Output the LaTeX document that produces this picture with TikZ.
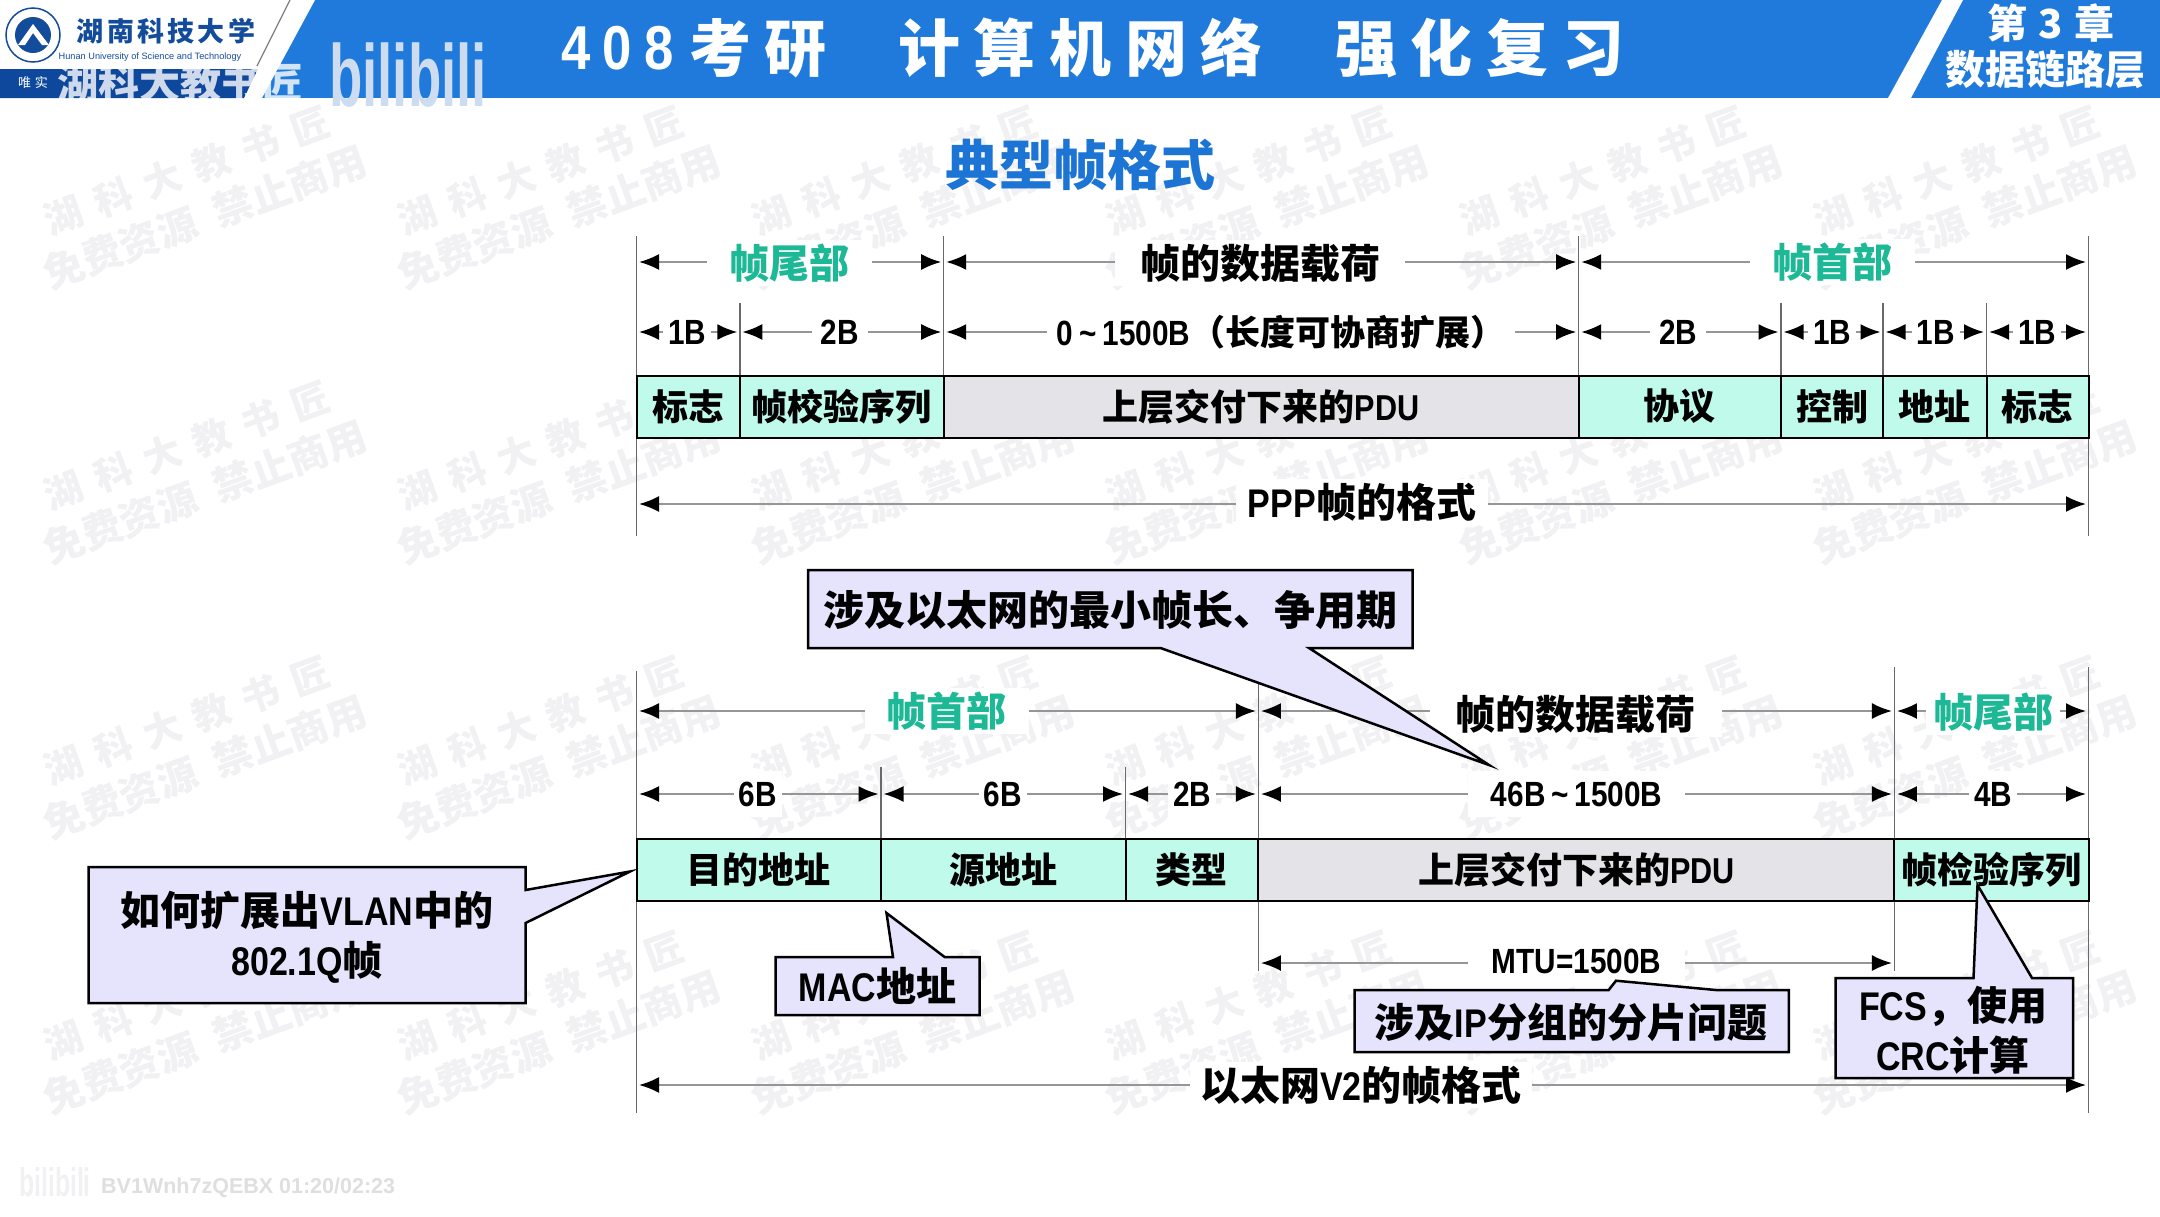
\documentclass[tikz,border=0pt]{standalone}
\usepackage{fontspec}
\setmainfont{Noto Sans CJK SC}
\newfontfamily\lat[FakeStretch=.85]{Liberation Sans}
\newfontfamily\plainlat{Liberation Sans}
\newfontfamily\bilifont[FakeStretch=.62]{Liberation Sans}
\newfontfamily\headfont[LetterSpace=22]{Noto Sans CJK SC}
\newfontfamily\headnum[LetterSpace=20,FakeStretch=.85]{Liberation Sans}
\newfontfamily\wmfont[LetterSpace=38]{Noto Sans CJK SC}
\newfontfamily\schoolfont[LetterSpace=12]{Noto Sans CJK SC}
\newcommand{\la}[1]{{\lat #1}}
\definecolor{headblue}{RGB}{31,122,219}
\definecolor{titleblue}{RGB}{28,116,213}
\definecolor{logoblue}{RGB}{20,76,156}
\definecolor{bandblue}{RGB}{14,72,156}
\definecolor{celltint}{RGB}{192,250,235}
\definecolor{pdugray}{RGB}{228,228,232}
\definecolor{calloutfill}{RGB}{230,227,252}
\definecolor{partteal}{RGB}{29,184,149}
\definecolor{dimgray}{RGB}{150,150,150}
\definecolor{ticklinegray}{RGB}{105,105,105}
\definecolor{markgray}{RGB}{241,241,244}
\definecolor{bililight}{RGB}{205,220,240}
\usetikzlibrary{arrows.meta}
\tikzset{
  cellbox/.style={draw=black, line width=2pt, minimum height=62, inner sep=0, outer sep=0,
    font=\fontsize{36}{42}\selectfont\bfseries},
  dimarrow/.style={dimgray, line width=2pt, shorten <=2.5pt, shorten >=2.5pt,
    {Latex[length=20pt,width=16pt,color=black]}-{Latex[length=20pt,width=16pt,color=black]}},
  tickline/.style={ticklinegray, line width=1.4pt},
  dimlabel/.style={fill=white, inner sep=0, minimum height=46, font=\fontsize{35}{40}\selectfont\bfseries},
  partlabel/.style={dimlabel, font=\fontsize{40}{46}\selectfont\bfseries},
  calloutbox/.style={draw=black, fill=calloutfill, line width=2.5pt},
  callouttext/.style={align=center, inner sep=0, font=\fontsize{40}{50}\selectfont\bfseries},
  marktext/.style={markgray, rotate=20, inner sep=0, font=\fontsize{38}{40}\selectfont\bfseries},
  headtext/.style={white, anchor=west, inner sep=0, font=\fontsize{62}{66}\selectfont\bfseries},
}
\begin{document}
\begin{tikzpicture}[x=1pt, y=-1pt]
\useasboundingbox (0,0) rectangle (2160,1216);
\fill[white] (0,0) rectangle (2160,1216);

% Watermark grid
\foreach \i in {0,...,5} {
  \foreach \j in {0,...,3} {
    \node[marktext] (ma\i\j) at (187+354*\i,171+275*\j) {\wmfont 湖科大教书匠};
    \node[marktext, font=\fontsize{40}{44}\selectfont\bfseries] (mb\i\j) at (205+354*\i,217+275*\j) {免费资源\hspace{20pt}禁止商用};
  }
}

% Header bar
\fill[headblue] (0,0) rectangle (2160,98);
\fill[white] (0,0) -- (315,0) -- (262,98) -- (0,98) -- cycle;
\fill[white] (1942,0) -- (1963,0) -- (1911,98) -- (1888,98) -- cycle;
\fill[bandblue] (0,69) -- (258,69) -- (244,98) -- (0,98) -- cycle;
\draw[gray, line width=1.2pt] (290,0) -- (257,66);

% School logo
\draw[logoblue, line width=1.5pt] (33,35) circle (27pt);
\fill[logoblue] (33,35) circle (18pt);
\fill[white] (18,45) -- (33,24) -- (49,45) -- (42,45) -- (33,33) -- (25,45) -- cycle;
\node[logoblue, inner sep=0, font=\fontsize{27}{30}\selectfont\bfseries] (school) at (166,31) {\schoolfont 湖南科技大学};
\node[logoblue, inner sep=0, font=\fontsize{9.2}{11}\selectfont] (schooleng) at (150,57) {\plainlat Hunan University of Science and Technology};
\node[white, inner sep=0, font=\fontsize{13}{15}\selectfont] (motto) at (33,83) {唯\hspace{4pt}实};

% Channel marks
\node[white, opacity=.8, inner sep=0, font=\fontsize{41}{44}\selectfont\bfseries] (channel) at (180,83) {湖科大教书匠};
\node[bililight, inner sep=0, font=\fontsize{88}{90}\selectfont\bfseries] (bili) at (408,75) {\bilifont bilibili};
\node[markgray, inner sep=0, font=\fontsize{40}{44}\selectfont\bfseries] (bilismall) at (55,1182) {\bilifont bilibili};
\node[anchor=west, gray!25, inner sep=0, font=\fontsize{21.5}{24}\selectfont\bfseries] (videoid) at (101,1188) {\plainlat BV1Wnh7zQEBX 01:20/02:23};

% Header texts
\node[headtext] (headnum) at (561,48) {\headnum 408};
\node[headtext] (heada) at (689,48) {\headfont 考研};
\node[headtext] (headb) at (898,48) {\headfont 计算机网络};
\node[headtext] (headc) at (1335,48) {\headfont 强化复习};
\node[white, inner sep=0, font=\fontsize{40}{44}\selectfont\bfseries] (chap) at (2051,23) {第\hspace{2pt} 3 \hspace{2pt}章};
\node[white, inner sep=0, font=\fontsize{40}{44}\selectfont\bfseries] (chapname) at (2045,69) {数据链路层};
\node[titleblue, inner sep=0, font=\fontsize{54}{60}\selectfont\bfseries] (title) at (1080,165) {典型帧格式};

% PPP frame: vertical ticks and arrow rows
\foreach \n/\x/\t/\b in {0/636.5/236/536,1/739.8/303/375,2/943.7/236/375,3/1578.7/236/375,
    4/1781/303/375,5/1883/303/375,6/1986.5/303/375,7/2088.5/236/536} {
  \coordinate (pt\n) at (\x,\t);
  \coordinate (pu\n) at (\x,\b);
  \coordinate (pa\n) at (\x,262);
  \coordinate (pb\n) at (\x,332);
  \coordinate (pc\n) at (\x,504);
  \draw[tickline] (pt\n) -- (pu\n);
}
\foreach \p/\q in {pa0/pa2,pa2/pa3,pa3/pa7,pb0/pb1,pb1/pb2,pb2/pb3,pb3/pb4,pb4/pb5,pb5/pb6,pb6/pb7,pc0/pc7}
  \draw[dimarrow] (\p) -- (\q);

% PPP frame cells
\foreach \n/\cx/\w/\c/\t in {1/688.15/103.3/celltint/标志,2/841.75/203.9/celltint/帧校验序列,
    3/1261.2/635/pdugray/上层交付下来的\la{PDU},4/1679.85/202.3/celltint/协议,
    5/1832/102/celltint/控制,6/1934.75/103.5/celltint/地址,7/2037.5/102/celltint/标志}
  \node[cellbox, fill=\c, minimum width=\w] (pcell\n) at (\cx,406.5) {\t};

% PPP frame labels
\node[partlabel, minimum width=165, text=partteal] (ptail) at (789.5,263) {帧尾部};
\node[partlabel, minimum width=290] (ppay) at (1260,263) {帧的数据载荷};
\node[partlabel, minimum width=165, text=partteal] (phead) at (1832,262) {帧首部};
\node[dimlabel, minimum width=48] (pl1) at (687.4,332) {\la{1B}};
\node[dimlabel, minimum width=56] (pl2) at (840,332) {\la{2B}};
\node[dimlabel, minimum width=468] (pl3) at (1281,332) {\la{0\,\textasciitilde\,1500B}（长度可协商扩展）};
\node[dimlabel, minimum width=56] (pl4) at (1678,332) {\la{2B}};
\node[dimlabel, minimum width=48] (pl5) at (1832,332) {\la{1B}};
\node[dimlabel, minimum width=48] (pl6) at (1935.5,332) {\la{1B}};
\node[dimlabel, minimum width=48] (pl7) at (2037,332) {\la{1B}};
\node[dimlabel, minimum width=252, font=\fontsize{40}{44}\selectfont\bfseries] (pname) at (1362,502) {\la{PPP}帧的格式};

% Ethernet frame: vertical ticks and arrow rows
\foreach \n/\x/\t/\b in {0/636.5/671/1113,1/881/767/838,2/1125.5/767/838,3/1258.4/683/971,
    4/1894.4/667/971,5/2088.5/667/1113} {
  \coordinate (et\n) at (\x,\t);
  \coordinate (eu\n) at (\x,\b);
  \coordinate (ea\n) at (\x,711);
  \coordinate (eb\n) at (\x,794);
  \coordinate (ec\n) at (\x,963);
  \coordinate (ed\n) at (\x,1085);
  \draw[tickline] (et\n) -- (eu\n);
}
\foreach \p/\q in {ea0/ea3,ea3/ea4,ea4/ea5,eb0/eb1,eb1/eb2,eb2/eb3,eb3/eb4,eb4/eb5,ec3/ec4,ed0/ed5}
  \draw[dimarrow] (\p) -- (\q);

% Ethernet frame cells
\foreach \n/\cx/\w/\c/\t in {1/758.75/244.5/celltint/目的地址,2/1003.25/244.5/celltint/源地址,
    3/1191.95/132.9/celltint/类型,4/1576.4/636/pdugray/上层交付下来的\la{PDU},5/1991.45/194.1/celltint/帧检验序列}
  \node[cellbox, fill=\c, minimum width=\w] (ecell\n) at (\cx,870) {\t};

% Ethernet frame labels
\node[partlabel, minimum width=164, text=partteal] (ehead) at (946.5,711) {帧首部};
\node[partlabel, minimum width=292] (epay) at (1575.7,714) {帧的数据载荷};
\node[partlabel, minimum width=134, text=partteal] (etail) at (1993,712) {帧尾部};
\node[dimlabel, minimum width=48] (el1) at (757.7,794) {\la{6B}};
\node[dimlabel, minimum width=48] (el2) at (1003,794) {\la{6B}};
\node[dimlabel, minimum width=48] (el3) at (1192,794) {\la{2B}};
\node[dimlabel, minimum width=217] (el4) at (1576.6,794) {\la{46B\,\textasciitilde\,1500B}};
\node[dimlabel, minimum width=48] (el5) at (1993,794) {\la{4B}};
\node[dimlabel, minimum width=217] (emtu) at (1576.6,961) {\la{MTU=1500B}};
\node[dimlabel, minimum width=342, font=\fontsize{40}{44}\selectfont\bfseries] (ename) at (1361,1085) {以太网\la{V2}的帧格式};

% Callouts
\draw[calloutbox] (808,570) -- (1412.6,570) -- (1412.6,648) -- (1309,648) -- (1489,765) -- (1160.5,648) -- (808,648) -- cycle;
\node[callouttext, font=\fontsize{41}{50}\selectfont\bfseries] (cmin) at (1110,610) {涉及以太网的最小帧长、争用期};

\draw[calloutbox] (88.7,867) -- (525.6,867) -- (525.6,890) -- (630,871.5) -- (525.6,923) -- (525.6,1003) -- (88.7,1003) -- cycle;
\node[callouttext] (cvlan) at (307,937) {如何扩展出\la{VLAN}中的\\\la{802.1Q}帧};

\draw[calloutbox] (775.6,957) -- (893,957) -- (886.5,913) -- (944.6,957) -- (979.6,957) -- (979.6,1015) -- (775.6,1015) -- cycle;
\node[callouttext] (cmac) at (877.5,986) {\la{MAC}地址};

\draw[calloutbox] (1354.6,990) -- (1608.7,990) -- (1616,980.7) -- (1715.8,990) -- (1788.8,990) -- (1788.8,1052) -- (1354.6,1052) -- cycle;
\node[callouttext] (cip) at (1571,1022) {涉及\la{IP}分组的分片问题};

\draw[calloutbox] (1835.7,978) -- (1973.5,978) -- (1977.5,885) -- (2032,978) -- (2073,978) -- (2073,1078) -- (1835.7,1078) -- cycle;
\node[callouttext] (cfcs) at (1953,1030) {\la{FCS}，使用\\\la{CRC}计算};

\end{tikzpicture}
\end{document}
